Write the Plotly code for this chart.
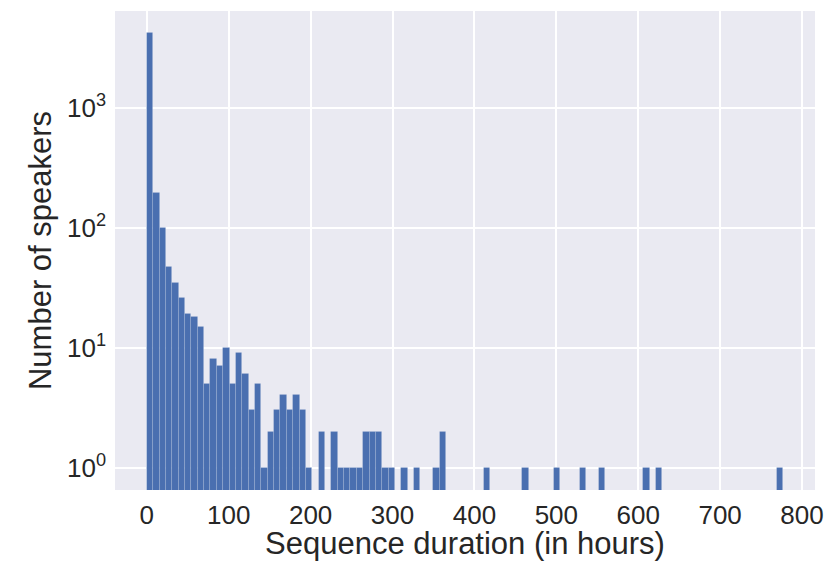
import numpy as np
import plotly.graph_objects as go

# Histogram: 100 equal bins spanning 0..777 hours
bin_min = 0.0
bin_max = 777.0
counts = [4217, 196, 100, 47, 35, 26, 19, 18, 15, 5,
          8, 7, 10, 5, 9, 6, 3, 5, 1, 2,
          3, 4, 3, 4, 3, 1, 0, 2, 0, 2,
          1, 1, 1, 1, 2, 2, 2, 1, 1, 0,
          1, 0, 1, 0, 0, 1, 2, 0, 0, 0,
          0, 0, 0, 1, 0, 0, 0, 0, 0, 1,
          0, 0, 0, 0, 1, 0, 0, 0, 1, 0,
          0, 1, 0, 0, 0, 0, 0, 0, 1, 0,
          1, 0, 0, 0, 0, 0, 0, 0, 0, 0,
          0, 0, 0, 0, 0, 0, 0, 0, 0, 1]
x_ticks = [0, 100, 200, 300, 400, 500, 600, 700, 800]
y_ticks = [1, 10, 100, 1000]
y_tick_text = ["10<sup>0</sup>", "10<sup>1</sup>", "10<sup>2</sup>", "10<sup>3</sup>"]

edges = np.linspace(bin_min, bin_max, len(counts) + 1)
centers = (edges[:-1] + edges[1:]) / 2
width = edges[1] - edges[0]
y_vals = [c if c > 0 else None for c in counts]

fig = go.Figure(go.Bar(
    x=centers, y=y_vals, width=width,
    marker=dict(color="#4a6fb0", line=dict(color="rgba(255,255,255,0.15)", width=0.8)),
))

font_family = "Liberation Sans, Arial, sans-serif"
text_color = "#262626"
span = bin_max - bin_min
fig.update_layout(
    width=828, height=561,
    margin=dict(l=115, r=13, t=11, b=71, autoexpand=False),
    paper_bgcolor="white", plot_bgcolor="#eaeaf2",
    bargap=0, showlegend=False,
    font=dict(family=font_family, color=text_color),
)
fig.update_xaxes(
    range=[bin_min - 0.05 * span, bin_max + 0.05 * span],
    tickvals=x_ticks, ticktext=[str(v) for v in x_ticks],
    tickfont=dict(size=26), showgrid=True, gridcolor="white", gridwidth=1.5,
    zeroline=False, showline=False, ticks="", ticklabelstandoff=7,
    automargin=False,
    title=dict(text="Sequence duration (in hours)", font=dict(size=31), standoff=0),
)
fig.update_yaxes(
    type="log", range=[-0.186, 3.808],
    tickvals=y_ticks, ticktext=y_tick_text,
    tickfont=dict(size=26), showgrid=True, gridcolor="white", gridwidth=1.5,
    zeroline=False, showline=False, ticks="", ticklabelstandoff=8,
    automargin=False,
    title=dict(text="Number of speakers", font=dict(size=31), standoff=6),
)

fig.write_html("out.html", config={"displayModeBar": False},
               post_script="document.body.style.margin='0';")
